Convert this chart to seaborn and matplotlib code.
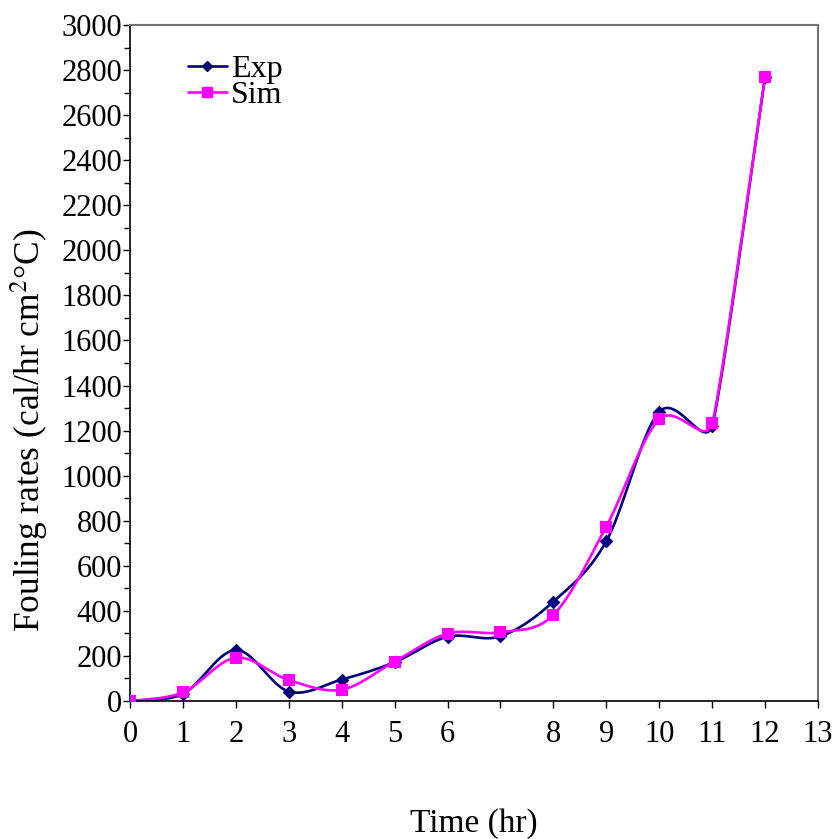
import numpy as np
import pandas as pd
import matplotlib
matplotlib.use("Agg")
import matplotlib.pyplot as plt
import seaborn as sns
from matplotlib.ticker import MultipleLocator

time_hr = [0, 1, 2, 3, 4, 5, 6, 7, 8, 9, 10, 11, 12]
exp_vals = [0, 32, 226, 42, 95, 172, 285, 287, 441, 709, 1283, 1222, 2770]
sim_vals = [0, 38, 192, 93, 50, 175, 299, 305, 382, 774, 1250, 1232, 2770]
x_tick_values = list(range(0, 14))
x_tick_labels = [str(v) if v != 7 else "" for v in x_tick_values]

sns.set_theme(style="white")
plt.rcParams['font.family'] = ['Liberation Serif', 'DejaVu Serif']
plt.rcParams['mathtext.fontset'] = 'stix'
plt.rcParams['text.color'] = 'black'
plt.rcParams['axes.labelcolor'] = 'black'
plt.rcParams['xtick.color'] = 'black'
plt.rcParams['ytick.color'] = 'black'

fig = plt.figure(figsize=(8.35, 8.39), dpi=100)
ax = fig.add_axes([0.1557, 0.1645, 0.9796 - 0.1557, 0.9702 - 0.1645])
ax.set_xlim(0, 13)
ax.set_ylim(0, 3000)


def excel_smooth(ax, x, y, n=40, limit=0.5):
    # Bezier smoothing (Excel-like) computed in display space
    pts = ax.transData.transform(np.column_stack([x, y]).astype(float))
    P = np.vstack([pts[0], pts, pts[-1]])
    t = np.linspace(0, 1, n)[:, None]
    out = []
    for i in range(1, len(P) - 2):
        p0, p3 = P[i], P[i + 1]
        seg = np.linalg.norm(p3 - p0)
        v1 = (P[i + 1] - P[i - 1]) / 6
        v2 = (P[i + 2] - P[i]) / 6
        prev_seg = np.linalg.norm(P[i] - P[i - 1]) if i > 1 else seg
        next_seg = np.linalg.norm(P[i + 2] - P[i + 1]) if i + 2 < len(P) - 1 else seg
        l1 = np.linalg.norm(v1); m1 = limit * min(seg, prev_seg) if prev_seg > 0 else limit * seg
        l2 = np.linalg.norm(v2); m2 = limit * min(seg, next_seg) if next_seg > 0 else limit * seg
        if l1 > m1 and l1 > 0:
            v1 = v1 * m1 / l1
        if l2 > m2 and l2 > 0:
            v2 = v2 * m2 / l2
        c1 = p0 + v1
        c2 = p3 - v2
        b = (1 - t) ** 3 * p0 + 3 * (1 - t) ** 2 * t * c1 + 3 * (1 - t) * t ** 2 * c2 + t ** 3 * p3
        out.append(b)
    out = np.vstack(out)
    d = ax.transData.inverted().transform(out)
    return d[:, 0], d[:, 1]


series = [("Exp", exp_vals, "#000080", "D", 7),
          ("Sim", sim_vals, "#FF00FF", "s", 9)]
for name, vals, col, mk, ms in series:
    sx, sy = excel_smooth(ax, time_hr, vals)
    ax.plot(sx, sy, color=col, lw=1.9, zorder=2)
    df = pd.DataFrame({"t": time_hr, "v": vals})
    sns.scatterplot(data=df, x="t", y="v", ax=ax, color=col, marker=mk,
                    s=ms ** 2, edgecolor=col, linewidth=0, zorder=3)
    ax.plot([], [], color=col, lw=1.9, marker=mk, ms=ms * 0.75, label=name)

ax.set_xlim(0, 13)
ax.set_ylim(0, 3000)
ax.set_xticks(x_tick_values)
ax.set_xticklabels(x_tick_labels)
ax.yaxis.set_major_locator(MultipleLocator(200))
ax.yaxis.set_minor_locator(MultipleLocator(100))
ax.tick_params(axis='both', which='major', direction='out', length=5, width=1,
               color='black', labelsize=22, left=True, bottom=True, pad=0.5)
ax.tick_params(axis='y', which='minor', direction='out', length=4, width=1,
               color='black', left=True)
ax.tick_params(axis='x', pad=9)

for s in ['left', 'bottom']:
    ax.spines[s].set_color('black'); ax.spines[s].set_linewidth(1.2)
for s in ['top', 'right']:
    ax.spines[s].set_color('#707070'); ax.spines[s].set_linewidth(1.5)

ax.set_xlabel("Time (hr)", fontsize=24, labelpad=42)
ax.set_ylabel(r"Fouling rates (cal/hr cm$^{2}$°C)", fontsize=25.5,
              va='center', ha='center')
ax.yaxis.set_label_coords((30 - 130) / 688, 0.40)

ax.legend(loc='upper left', bbox_to_anchor=(0.066, 0.975), frameon=False,
          fontsize=23, handlelength=1.2, handletextpad=0.15, labelspacing=-0.1,
          borderaxespad=0)

fig.savefig("out.png", dpi=100, facecolor='white')
